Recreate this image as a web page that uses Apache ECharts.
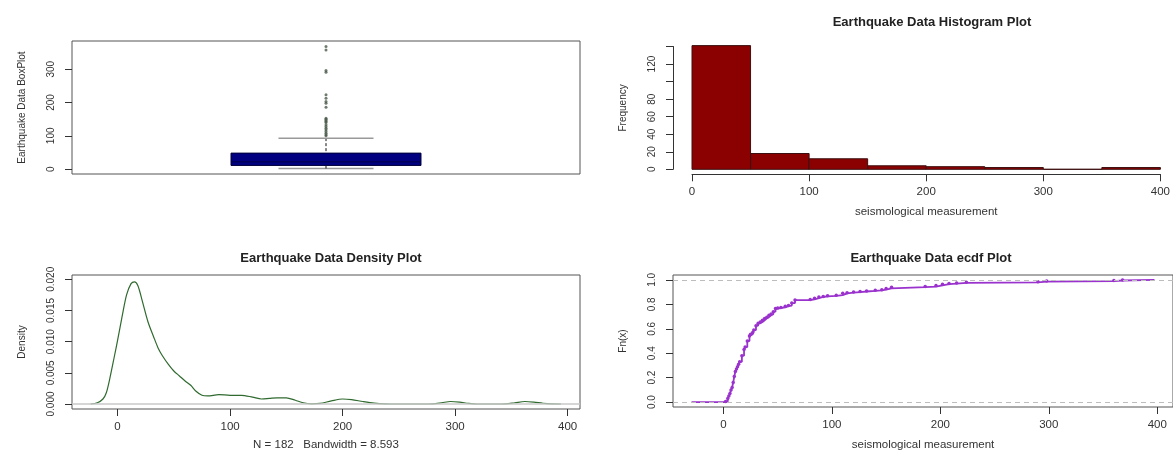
<!DOCTYPE html>
<html>
<head>
<meta charset="utf-8">
<script src="https://cdn.jsdelivr.net/npm/echarts@6/dist/echarts.min.js"></script>
<style>
  html, body { margin: 0; padding: 0; background: #fff; }
  #main { width: 1173px; height: 452px; }
</style>
</head>
<body>
<div id="main"></div>
<script>
// box plot: [min whisker, q1, median, q3, max whisker]
var boxStats = [2, 11, 22, 48, 93];
var boxOutliers = [368, 358, 296, 291, 223, 213, 203, 198, 186, 153, 150, 146, 143, 140, 133, 128, 123, 118, 113, 108, 103, 100];

// histogram bins
var histStart = [0, 50, 100, 150, 200, 250, 300, 350];
var histEnd = [50, 100, 150, 200, 250, 300, 350, 400];
var histCount = [141, 18, 12, 4, 3, 2, 0, 2];

// kernel density
var densX = [-24, -18, -13, -10, -7, -3, 0, 4, 8, 12, 15, 18, 22, 27, 32, 36, 40, 45, 50, 55, 60, 65, 70, 75, 80, 90, 100, 110, 120, 128, 135, 142, 150, 158, 165, 172, 180, 190, 200, 208, 218, 228, 238, 250, 270, 280, 288, 296, 304, 312, 320, 335, 345, 353, 362, 370, 378, 386, 394];
var densY = [0, 0.0002, 0.0008, 0.0018, 0.0040, 0.0075, 0.0102, 0.0140, 0.0175, 0.0193, 0.0196, 0.0190, 0.0165, 0.0132, 0.0108, 0.0090, 0.0077, 0.0064, 0.0053, 0.0045, 0.0037, 0.0030, 0.0020, 0.0014, 0.0013, 0.0015, 0.0014, 0.0014, 0.0011, 0.0008, 0.0009, 0.0010, 0.0010, 0.0006, 0.0002, 0.00003, 0.0001, 0.0005, 0.0008, 0.0007, 0.0004, 0.00015, 0.00003, 0, 0, 0.00003, 0.0002, 0.0004, 0.0003, 0.0001, 0, 0, 0.00003, 0.0002, 0.0004, 0.0003, 0.00012, 0.00002, 0];

// ecdf jumps
var ecdfX = [2, 4, 5, 6, 7, 8, 9, 10, 11, 12, 13, 14, 15, 17, 19, 20, 22, 24, 25, 27, 28, 30, 32, 34, 36, 38, 40, 42, 44, 46, 48, 50, 53, 57, 60, 63, 66, 80, 84, 88, 92, 96, 104, 110, 114, 120, 126, 132, 140, 146, 150, 155, 186, 196, 202, 208, 215, 224, 290, 298, 360, 368];
var ecdfY = [0.005, 0.03, 0.05, 0.07, 0.10, 0.12, 0.16, 0.21, 0.25, 0.27, 0.29, 0.31, 0.33, 0.38, 0.43, 0.45, 0.50, 0.54, 0.555, 0.57, 0.59, 0.625, 0.645, 0.655, 0.67, 0.685, 0.695, 0.71, 0.72, 0.74, 0.765, 0.77, 0.775, 0.785, 0.79, 0.81, 0.835, 0.84, 0.85, 0.86, 0.865, 0.87, 0.875, 0.89, 0.895, 0.90, 0.905, 0.91, 0.915, 0.92, 0.93, 0.94, 0.945, 0.955, 0.965, 0.97, 0.975, 0.98, 0.985, 0.99, 0.995, 1.0];

var xTicks = [0, 100, 200, 300, 400];

var FONT = '"Liberation Sans", Arial, sans-serif';
var TXT = '#333';

function zipPairs(a, b) {
    var out = [];
    for (var i = 0; i < a.length; i++) out.push([a[i], b[i]]);
    return out;
}

var histData = [];
for (var i = 0; i < histStart.length; i++) {
    histData.push([histStart[i], histEnd[i], histCount[i]]);
}

var ecdfData = [{value: [-29.4, 0], symbol: 'none'}];
for (var j = 0; j < ecdfX.length; j++) ecdfData.push([ecdfX[j], ecdfY[j]]);
ecdfData.push({value: [397.4, 1], symbol: 'none'});

function boxedY(extra) {
    var base = {
        type: 'value',
        axisLine: {show: false, onZero: false},
        splitLine: {show: false},
        nameLocation: 'middle',
        nameTextStyle: {color: TXT, fontFamily: FONT, fontSize: 10}
    };
    for (var k in extra) base[k] = extra[k];
    return base;
}

function boxedX(extra) {
    var base = {
        type: 'value',
        axisLine: {show: false, onZero: false},
        splitLine: {show: false},
        axisTick: {show: true, length: 7, lineStyle: {color: '#333'}, customValues: xTicks},
        axisLabel: {margin: 12, color: TXT, fontFamily: FONT, fontSize: 11.5, customValues: xTicks},
        nameLocation: 'middle',
        nameTextStyle: {color: TXT, fontFamily: FONT, fontSize: 11.5}
    };
    for (var k in extra) base[k] = extra[k];
    return base;
}

function yTicks(vals, fmt) {
    return {
        axisTick: {show: true, length: 7, lineStyle: {color: '#333'}, customValues: vals},
        axisLabel: {
            rotate: 90, margin: 16, color: TXT, fontFamily: FONT, fontSize: 10,
            customValues: vals, formatter: fmt
        }
    };
}

var titleStyle = {color: '#222', fontFamily: FONT, fontSize: 13, fontWeight: 'bold'};

var y0 = yTicks([0, 100, 200, 300], function (v) { return String(v); });
var y2 = yTicks([0, 0.005, 0.01, 0.015, 0.02], function (v) { return v.toFixed(3); });
var y3 = yTicks([0, 0.2, 0.4, 0.6, 0.8, 1], function (v) { return v.toFixed(1); });

option = {
    animation: false,
    backgroundColor: '#fff',
    title: [
        {text: 'Earthquake Data Histogram Plot', left: 927, top: 11, textAlign: 'center', textStyle: titleStyle},
        {text: 'Earthquake Data Density Plot', left: 326, top: 247, textAlign: 'center', textStyle: titleStyle},
        {text: 'Earthquake Data ecdf Plot', left: 926, top: 247, textAlign: 'center', textStyle: titleStyle}
    ],
    grid: [
        {left: 72, top: 41, width: 508, height: 133, show: true, borderColor: '#555', borderWidth: 1},
        {left: 692, top: 46.5, width: 471, height: 122.8},
        {left: 72, top: 275, width: 508, height: 134, show: true, borderColor: '#555', borderWidth: 1},
        {left: 673, top: 275, width: 505, height: 134, show: true, borderColor: '#555', borderWidth: 1}
    ],
    xAxis: [
        {gridIndex: 0, type: 'value', min: 0.5, max: 1.5, show: false},
        {
            gridIndex: 1, type: 'value', min: 0, max: 400, interval: 100, offset: 5,
            axisLine: {show: true, onZero: false, lineStyle: {color: '#333'}},
            splitLine: {show: false},
            axisTick: {length: 7, lineStyle: {color: '#333'}},
            axisLabel: {margin: 12, color: TXT, fontFamily: FONT, fontSize: 11.5},
            name: 'seismological measurement', nameLocation: 'middle', nameGap: 32,
            nameTextStyle: {color: TXT, fontFamily: FONT, fontSize: 11.5}
        },
        boxedX({gridIndex: 2, min: -40.5, max: 411, name: 'N = 182   Bandwidth = 8.593', nameGap: 30}),
        boxedX({gridIndex: 3, min: -46.5, max: 414.5, name: 'seismological measurement', nameGap: 32})
    ],
    yAxis: [
        boxedY({gridIndex: 0, min: -14.7, max: 384.7, axisTick: y0.axisTick, axisLabel: y0.axisLabel,
                name: 'Earthquake Data BoxPlot', nameGap: 45}),
        {
            gridIndex: 1, type: 'value', min: 0, max: 140, interval: 20, offset: 19,
            axisLine: {show: true, onZero: false, lineStyle: {color: '#333'}},
            splitLine: {show: false},
            axisTick: {length: 7, lineStyle: {color: '#333'}},
            axisLabel: {
                rotate: 90, margin: 16, color: TXT, fontFamily: FONT, fontSize: 10,
                formatter: function (v) { return (v === 100 || v === 140) ? '' : v; }
            },
            name: 'Frequency', nameLocation: 'middle', nameGap: 45,
            nameTextStyle: {color: TXT, fontFamily: FONT, fontSize: 10}
        },
        boxedY({gridIndex: 2, min: -0.0008, max: 0.02069, axisTick: y2.axisTick, axisLabel: y2.axisLabel,
                name: 'Density', nameGap: 45}),
        boxedY({gridIndex: 3, min: -0.04, max: 1.04, axisTick: y3.axisTick, axisLabel: y3.axisLabel,
                name: 'Fn(x)', nameGap: 45})
    ],
    series: [
        {
            // box, whiskers and caps
            type: 'custom', xAxisIndex: 0, yAxisIndex: 0,
            data: [[1].concat(boxStats)],
            renderItem: function (params, api) {
                var c = api.value(0);
                var lo = api.value(1), q1 = api.value(2), md = api.value(3), q3 = api.value(4), hi = api.value(5);
                var bw = 0.187, cw = 0.0935;
                var bl = api.coord([c - bw, q3]), br = api.coord([c + bw, q1]);
                var ctop = api.coord([c, hi]), cq3 = api.coord([c, q3]);
                var cq1 = api.coord([c, q1]), cbot = api.coord([c, lo]);
                var capL = api.coord([c - cw, hi])[0], capR = api.coord([c + cw, hi])[0];
                var mdL = api.coord([c - bw, md]), mdR = api.coord([c + bw, md]);
                return {
                    type: 'group',
                    children: [
                        {type: 'line', shape: {x1: ctop[0], y1: ctop[1], x2: cq3[0], y2: cq3[1]},
                         style: {stroke: '#111', lineWidth: 1, lineDash: [3, 2]}},
                        {type: 'line', shape: {x1: capL, y1: ctop[1], x2: capR, y2: ctop[1]},
                         style: {stroke: '#999', lineWidth: 1.5}},
                        {type: 'line', shape: {x1: capL, y1: cbot[1], x2: capR, y2: cbot[1]},
                         style: {stroke: '#999', lineWidth: 1.5}},
                        {type: 'rect', shape: {x: bl[0], y: bl[1], width: br[0] - bl[0], height: br[1] - bl[1]},
                         style: {fill: '#000080', stroke: '#00003a', lineWidth: 1}},
                        {type: 'line', shape: {x1: mdL[0], y1: mdL[1], x2: mdR[0], y2: mdR[1]},
                         style: {stroke: '#00005a', lineWidth: 1.5}},
                        {type: 'line', shape: {x1: cq1[0], y1: cq1[1], x2: cbot[0], y2: cbot[1]},
                         style: {stroke: '#111', lineWidth: 1}}
                    ]
                };
            }
        },
        {
            type: 'scatter', xAxisIndex: 0, yAxisIndex: 0,
            data: boxOutliers.map(function (v) { return [1, v]; }),
            symbolSize: 3,
            itemStyle: {color: '#4a5a4a'}
        },
        {
            type: 'custom', xAxisIndex: 1, yAxisIndex: 1,
            data: histData,
            renderItem: function (params, api) {
                var p0 = api.coord([api.value(0), api.value(2)]);
                var p1 = api.coord([api.value(1), 0]);
                return {
                    type: 'rect',
                    shape: {x: p0[0], y: p0[1], width: p1[0] - p0[0], height: p1[1] - p0[1]},
                    style: {fill: '#8b0000', stroke: '#3c1010', lineWidth: 1}
                };
            }
        },
        {
            type: 'line', xAxisIndex: 2, yAxisIndex: 2,
            data: zipPairs(densX, densY),
            smooth: 0.3, showSymbol: false,
            lineStyle: {color: '#2f6a2f', width: 1.2}
        },
        {
            type: 'line', xAxisIndex: 2, yAxisIndex: 2, data: [], z: 5,
            markLine: {
                silent: true, symbol: 'none', label: {show: false},
                lineStyle: {color: '#c8c8c8', type: 'solid', width: 1.6},
                data: [{yAxis: 0}]
            }
        },
        {
            type: 'line', xAxisIndex: 3, yAxisIndex: 3,
            data: ecdfData, step: 'end',
            symbol: 'circle', symbolSize: 3.5,
            lineStyle: {color: '#9a32cd', width: 1.8},
            itemStyle: {color: '#9a32cd'}
        },
        {
            type: 'line', xAxisIndex: 3, yAxisIndex: 3, data: [], z: 1,
            markLine: {
                silent: true, symbol: 'none', label: {show: false},
                lineStyle: {color: '#bdbdbd', type: [5, 4], width: 1},
                data: [{yAxis: 0}, {yAxis: 1}]
            }
        }
    ]
};

myChart = echarts.init(document.getElementById('main'));
myChart.setOption(option);
</script>
</body>
</html>
